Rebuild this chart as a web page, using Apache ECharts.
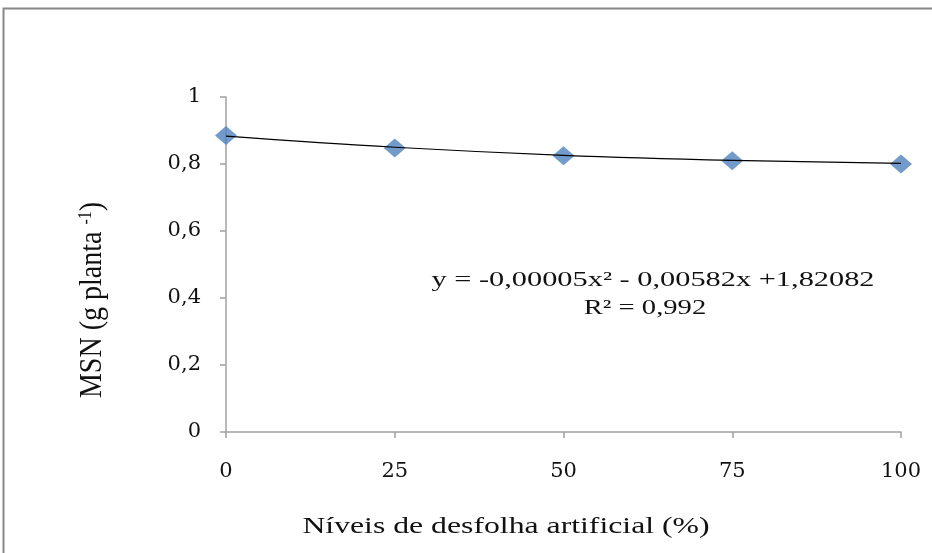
<!DOCTYPE html>
<html>
<head>
<meta charset="utf-8">
<script src="https://cdn.jsdelivr.net/npm/echarts@6/dist/echarts.min.js"></script>
<style>html,body{margin:0;padding:0;background:#fff}#c{width:932px;height:553px}</style>
</head>
<body>
<div id="c"></div>
<script>
const xValues = [0, 25, 50, 75, 100];
const observed = [0.885, 0.848, 0.825, 0.810, 0.800];
const trend = [0.883, 0.850, 0.826, 0.811, 0.802];
const yTicks = [0, 0.2, 0.4, 0.6, 0.8, 1];
const xTicks = [0, 25, 50, 75, 100];

const serif = '"Liberation Serif", "DejaVu Serif", serif';
const tickFont = '"DejaVu Serif", serif';
const chart = echarts.init(document.getElementById('c'));
chart.setOption({
  animation: false,
  backgroundColor: '#fff',
  grid: { left: 226, right: 31, top: 97, bottom: 121, containLabel: false },
  xAxis: {
    type: 'value', min: 0, max: 100, interval: 25,
    axisLine: { show: true, lineStyle: { color: '#a0a0a0', width: 1.5 } },
    axisTick: { show: true, length: 6, lineStyle: { color: '#a0a0a0', width: 1.5 } },
    axisLabel: { margin: 29, fontFamily: tickFont, fontSize: 21, color: '#111',
      formatter: v => xTicks.includes(v) ? String(v) : '' },
    splitLine: { show: false }
  },
  yAxis: {
    type: 'value', min: 0, max: 1, interval: 0.2,
    axisLine: { show: true, lineStyle: { color: '#a0a0a0', width: 1.5 } },
    axisTick: { show: true, length: 6, lineStyle: { color: '#a0a0a0', width: 1.5 } },
    axisLabel: { margin: 25, fontFamily: tickFont, fontSize: 21, color: '#111',
      formatter: v => { const t = yTicks.find(k => Math.abs(k - v) < 1e-9); return t === undefined ? '' : String(+t.toFixed(1)).replace('.', ','); } },
    splitLine: { show: false }
  },
  series: [
    {
      type: 'line', data: xValues.map((x, i) => [x, trend[i]]),
      smooth: 0.4, showSymbol: false, symbol: 'none',
      lineStyle: { color: '#000', width: 1.2 }, z: 3
    },
    {
      type: 'scatter', data: xValues.map((x, i) => [x, observed[i]]),
      symbol: 'diamond', symbolSize: [22, 19],
      itemStyle: { color: '#4F81BD' }, z: 2
    }
  ],
  graphic: [
    { type: 'rect', shape: { x: 3.5, y: 8.5, width: 940, height: 560 },
      style: { fill: 'none', stroke: '#888', lineWidth: 2 }, silent: true },
    { type: 'text', x: 653, y: 280, scaleX: 1.38,
      style: { text: 'y = -0,00005x² - 0,00582x +1,82082', font: '22px ' + serif, fill: '#111', align: 'center', verticalAlign: 'middle' } },
    { type: 'text', x: 645, y: 308, scaleX: 1.3,
      style: { text: 'R² = 0,992', font: '22px ' + serif, fill: '#111', align: 'center', verticalAlign: 'middle' } },
    { type: 'text', x: 506, y: 527, scaleX: 1.38,
      style: { text: 'Níveis de desfolha artificial (%)', font: '23px ' + serif, fill: '#111', align: 'center', verticalAlign: 'middle' } },
    { type: 'text', x: 93, y: 300, rotation: Math.PI / 2, scaleY: 1.15,
      style: { text: '{n|MSN (g planta }{s|-1}{n|)}', align: 'center', verticalAlign: 'middle',
        rich: { n: { font: '28px ' + serif, fill: '#111', verticalAlign: 'bottom' }, s: { font: '16px ' + serif, fill: '#111', verticalAlign: 'top', padding: [0, 0, 12, 0] } } } }
  ]
});
</script>
</body>
</html>
